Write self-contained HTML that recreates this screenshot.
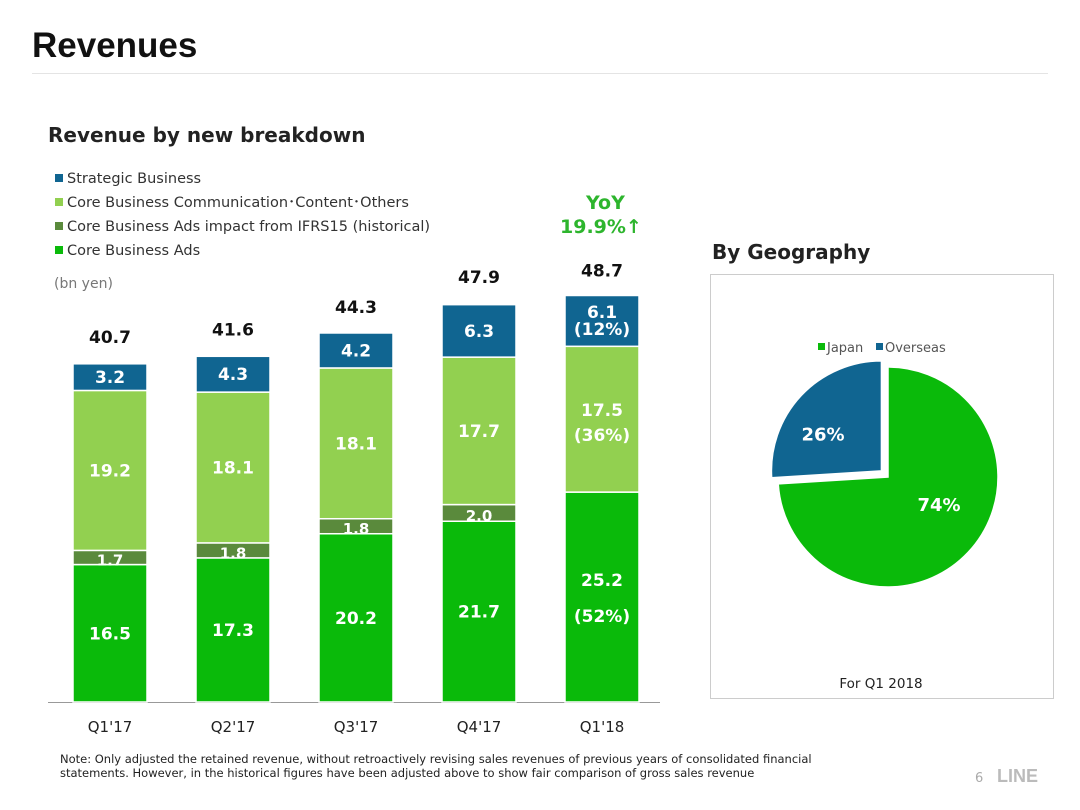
<!DOCTYPE html>
<html><head><meta charset="utf-8"><style>
body{margin:0;width:1080px;height:810px;background:#fff;font-family:"DejaVu Sans","Liberation Sans",sans-serif;overflow:hidden;position:relative}
.a{position:absolute;white-space:nowrap}
</style></head><body>
<div class="a" style="left:32px;top:26px;font-size:35px;font-weight:bold;color:#111;font-family:'Liberation Sans',sans-serif">Revenues</div>
<div class="a" style="left:32px;top:73px;width:1016px;height:1px;background:#e4e4e4"></div>
<div class="a" style="left:48px;top:123px;font-size:20px;font-weight:bold;color:#222">Revenue by new breakdown</div>
<div class="a" style="left:712px;top:240px;font-size:20px;font-weight:bold;color:#222">By Geography</div>
<div class="a" style="left:586px;top:192px;font-size:19px;font-weight:bold;color:#2db52d">YoY</div>
<div class="a" style="left:560px;top:216px;font-size:19px;font-weight:bold;color:#2db52d">19.9%↑</div>
<div class="a" style="left:54px;top:276px;font-size:14px;color:#777">(bn yen)</div>
<div class="a" style="left:710px;top:274px;width:342px;height:423px;border:1px solid #ccc"></div>
<div class="a" style="left:60px;top:752px;font-size:11.5px;color:#222;line-height:14px">Note: Only adjusted the retained revenue, without retroactively revising sales revenues of previous years of consolidated financial<br>statements. However, in the historical figures have been adjusted above to show fair comparison of gross sales revenue</div>
<div class="a" style="left:975px;top:771px;font-size:13px;color:#aaa">6</div>
<div class="a" style="left:997px;top:766px;font-size:18px;font-weight:bold;color:#bbb;font-family:'Liberation Sans',sans-serif">LINE</div>
<svg id="c" width="1080" height="810" style="position:absolute;left:0;top:0"></svg>
<script>
const categories=["Q1'17","Q2'17","Q3'17","Q4'17","Q1'18"];
const adsValues=[16.5,17.3,20.2,21.7,25.2];
const ifrsValues=[1.7,1.8,1.8,2.0,0];
const commValues=[19.2,18.1,18.1,17.7,17.5];
const strategicValues=[3.2,4.3,4.2,6.3,6.1];
const totals=[40.7,41.6,44.3,47.9,48.7];
const pctLabels=["","","","","(52%)|(36%)|(12%)"];
const seriesNames=["Strategic Business","Core Business Communication･Content･Others","Core Business Ads impact from IFRS15 (historical)","Core Business Ads"];
const pieNames=["Japan","Overseas"];
const pieValues=[74,26];
const NS="http://www.w3.org/2000/svg";
const svg=document.getElementById('c');
function mk(t,a,p){const e=document.createElementNS(NS,t);for(const k in a)e.setAttribute(k,a[k]);(p||svg).appendChild(e);return e;}
const base=702,scale=8.33,x0=110,step=123,bw=74;
const yS=v=>base-v*scale; const xS=i=>x0+i*step;
const colors=["#0aba0a","#5a8a3c","#92d050","#106591"];
const legCols=["#106591","#92d050","#5a8a3c","#0aba0a"];
seriesNames.forEach((n,i)=>{
 const r=mk('rect',{x:55,y:174+i*24,width:8,height:8,fill:legCols[i]});
 
 const t=mk('text',{x:67,y:183+i*24,'font-size':14.5,fill:'#333','font-family':'DejaVu Sans, sans-serif'});t.textContent=n;
 
});
mk('line',{x1:48,y1:702.5,x2:660,y2:702.5,stroke:'#999','stroke-width':1});
const series=[adsValues,ifrsValues,commValues,strategicValues];
categories.forEach((c,i)=>{
 let cum=0;const x=xS(i)-bw/2;
 const pcts=pctLabels[i]?pctLabels[i].split('|'):null;
 series.forEach((s,k)=>{
  const v=s[i];if(!v){return;}
  const y1=yS(cum),y2=yS(cum+v);
  const r=mk('rect',{x:x,y:y2,width:bw,height:y1-y2,fill:colors[k],stroke:'#fff','stroke-width':1.5});
  
  const mid=(y1+y2)/2;
  const fs=k==1?15:17;
  const pl=pcts?[pcts[0],null,pcts[1],pcts[2]][k]:null;
  const t=mk('text',{x:xS(i),'text-anchor':'middle','font-size':fs,'font-weight':'bold',fill:'#fff'});
  if(pl){t.setAttribute('y',mid-3);t.textContent=v.toFixed(1);
   const t2=mk('text',{x:xS(i),y:mid+(k==3?14:22),'text-anchor':'middle','font-size':17,'font-weight':'bold',fill:'#fff'});t2.textContent=pl;
   if(k==0){t.setAttribute('y',mid-11);t2.setAttribute('y',mid+25);}
   }
  else{t.setAttribute('y',mid+(k==1?8:6));t.textContent=v.toFixed(1);}
  
  cum+=v;
 });
 const tt=mk('text',{x:xS(i),y:yS(totals[i])-20,'text-anchor':'middle','font-size':17,'font-weight':'bold',fill:'#111'});tt.textContent=totals[i].toFixed(1);
 
 const xl=mk('text',{x:xS(i),y:732,'text-anchor':'middle','font-size':15,fill:'#222'});xl.textContent=c;
 
});
const cx=888,cy=477,R=110;const pcol=["#0aba0a","#106591"];
const tot=pieValues.reduce((a,b)=>a+b,0);let ang=0;
const lblDx=[0,-11],lblDy=[-14,14];
pieValues.forEach((v,i)=>{
 const a0=ang,a1=ang+v/tot*2*Math.PI;ang=a1;
 const am=(a0+a1)/2;const off=i==1?9:0;
 const ox=cx+off*Math.sin(am),oy=cy-off*Math.cos(am);
 const p=(a)=>[ox+R*Math.sin(a),oy-R*Math.cos(a)];
 const [sx,sy]=p(a0),[ex,ey]=p(a1);
 const path=mk('path',{d:`M${ox},${oy}L${sx},${sy}A${R},${R} 0 ${a1-a0>Math.PI?1:0} 1 ${ex},${ey}Z`,fill:pcol[i],stroke:'#fff','stroke-width':1.5});
 
 const lr=i==0?70:65;
 const t=mk('text',{x:ox+lr*Math.sin(am)+lblDx[i],y:oy-lr*Math.cos(am)+lblDy[i],'text-anchor':'middle','font-size':18,'font-weight':'bold',fill:'#fff'});
 t.textContent=Math.round(v/tot*100)+'%';
 
 const lx=[818,876][i];
 const sw=mk('rect',{x:lx,y:343,width:7,height:7,fill:pcol[i]});
 
 const lt=mk('text',{x:lx+9,y:352,'font-size':13,fill:'#555'});lt.textContent=pieNames[i];
 
});
const f=mk('text',{x:881,y:688,'text-anchor':'middle','font-size':13.5,fill:'#222'});f.textContent='For Q1 2018';

</script>
</body></html>
